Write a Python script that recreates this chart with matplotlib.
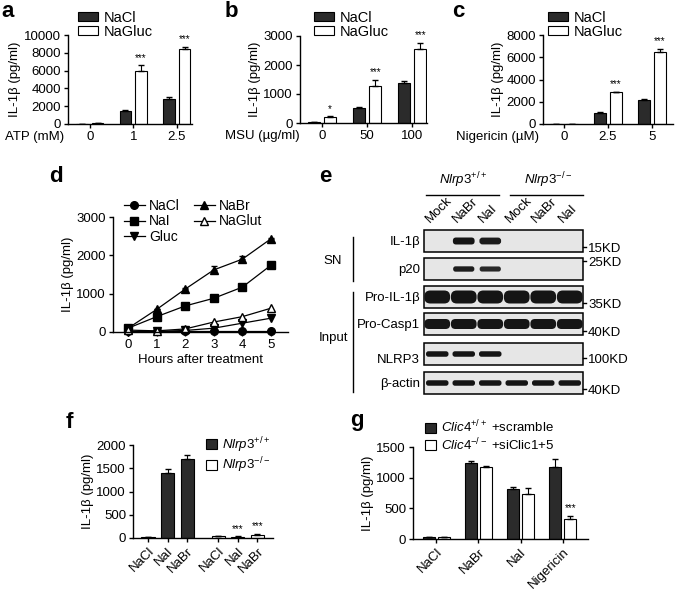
import numpy as np
import matplotlib
matplotlib.use('Agg')
import matplotlib.pyplot as plt
from matplotlib.patches import Rectangle, FancyBboxPatch, Patch

plt.rcParams['font.family'] = ['Liberation Sans', 'DejaVu Sans']
plt.rcParams['mathtext.fontset'] = 'custom'
plt.rcParams['mathtext.rm'] = 'Liberation Sans'
plt.rcParams['mathtext.it'] = 'Liberation Sans:italic'
plt.rcParams['axes.linewidth'] = 1.0
plt.rcParams['xtick.major.width'] = 1.0
plt.rcParams['ytick.major.width'] = 1.0
plt.rcParams['xtick.major.size'] = 3
plt.rcParams['ytick.major.size'] = 3
plt.rcParams['xtick.labelsize'] = 9.5
plt.rcParams['ytick.labelsize'] = 9.5
FS = 9.5

# ---- data ----
# a: ATP
a_groups = ['0', '1', '2.5']
a_nacl = [10, 1500, 2800]
a_nacl_err = [0, 100, 200]
a_gluc = [60, 6000, 8400]
a_gluc_err = [0, 600, 300]
a_stars = ['', '***', '***']

# b: MSU
b_groups = ['0', '50', '100']
b_nacl = [30, 530, 1370]
b_nacl_err = [0, 30, 90]
b_gluc = [200, 1290, 2560]
b_gluc_err = [30, 190, 200]
b_stars = ['*', '***', '***']

# c: Nigericin
c_groups = ['0', '2.5', '5']
c_nacl = [0, 1000, 2150]
c_nacl_err = [0, 50, 100]
c_gluc = [0, 2850, 6450]
c_gluc_err = [0, 60, 300]
c_stars = ['', '***', '***']

# d: time course
d_hours = [0, 1, 2, 3, 4, 5]
d_nacl = [20, 20, 20, 20, 20, 20]
d_nai = [100, 400, 680, 880, 1170, 1740]
d_gluc = [0, 15, 40, 100, 230, 360]
d_nabr = [100, 590, 1120, 1620, 1900, 2430]
d_nabr_err = [0, 20, 30, 110, 90, 20]
d_naglut = [50, 30, 80, 260, 400, 620]

# e: western blot (relative band intensity per lane)
e_lanes = ['Mock', 'NaBr', 'NaI', 'Mock', 'NaBr', 'NaI']
e_rows = ['IL-1β', 'p20', 'Pro-IL-1β', 'Pro-Casp1', 'NLRP3', 'β-actin']
e_bands = [
    [0, 1.0, 0.9, 0, 0, 0],
    [0, 0.9, 0.7, 0, 0, 0],
    [1, 1, 1, 1, 1, 1],
    [1, 1, 1, 1, 1, 1],
    [1, 1, 1, 0, 0, 0],
    [1, 1, 1, 1, 1, 1],
]
e_markers = ['15KD', '25KD', '35KD', '40KD', '100KD', '40KD']

# f: Nlrp3 WT vs KO
f_cats = ['NaCl', 'NaI', 'NaBr', 'NaCl', 'NaI', 'NaBr']
f_vals = [20, 1390, 1700, 40, 30, 70]
f_err = [5, 90, 90, 5, 5, 10]
f_stars = ['', '', '', '', '***', '***']

# g: Clic4
g_cats = ['NaCl', 'NaBr', 'NaI', 'Nigericin']
g_scr = [30, 1245, 820, 1170]
g_scr_err = [5, 20, 25, 130]
g_si = [25, 1170, 740, 330]
g_si_err = [5, 20, 90, 40]
g_stars = ['', '', '', '***']

W, H = 675, 592
fig = plt.figure(figsize=(W / 100, H / 100), dpi=100)


def box(x0, y0, x1, y1):
    return [x0 / W, 1 - y1 / H, (x1 - x0) / W, (y1 - y0) / H]


def fpos(x, y):
    return (x / W, 1 - y / H)


def style(ax):
    ax.spines['top'].set_visible(False)
    ax.spines['right'].set_visible(False)
    ax.tick_params(direction='out', pad=2)


DARK = '#2b2b2b'


def pair_bars(ax, xs, v1, e1, v2, e2, stars, w, off, ymax):
    ax.bar(xs - off, v1, w, color=DARK, edgecolor='black', lw=0.8)
    ax.bar(xs + off, v2, w, color='white', edgecolor='black', lw=0.8)
    ax.errorbar(xs - off, v1, yerr=[np.zeros(len(v1)), e1], fmt='none', ecolor='black', elinewidth=0.8, capsize=2.5)
    ax.errorbar(xs + off, v2, yerr=[np.zeros(len(v2)), e2], fmt='none', ecolor='black', elinewidth=0.8, capsize=2.5)
    for x, v, e, s in zip(xs + off, v2, e2, stars):
        if s:
            ax.text(x, v + e + ymax * 0.03, s, ha='center', va='bottom', fontsize=7)


def dose_panel(rect, groups, v1, e1, v2, e2, stars, ymax, step, xl, xlim, leg_xy, xlab):
    ax = fig.add_axes(box(*rect))
    style(ax)
    xs = np.arange(len(groups))
    pair_bars(ax, xs, v1, e1, v2, e2, stars, 0.27, 0.18, ymax)
    ax.set_ylim(0, ymax)
    ax.set_xlim(*xlim)
    ax.set_yticks(np.arange(0, ymax + 1, step))
    ax.set_xticks(xs, groups)
    ax.set_ylabel('IL-1β (pg/ml)', fontsize=FS, labelpad=2)
    ax.annotate(xlab, xy=(0, 0), xycoords='axes fraction', xytext=(xl, -5), textcoords='offset points',
                ha='right', va='top', fontsize=FS)
    hs = [Patch(facecolor=DARK, edgecolor='black', lw=0.8), Patch(facecolor='white', edgecolor='black', lw=0.8)]
    ax.legend(hs, ['NaCl', 'NaGluc'], loc='upper left', bbox_to_anchor=fpos(*leg_xy), bbox_transform=fig.transFigure,
              frameon=False, fontsize=10.5, handlelength=1.4, handleheight=0.6, handletextpad=0.35,
              borderpad=0, borderaxespad=0, labelspacing=0.0)
    return ax


dose_panel((68, 35, 192, 124), a_groups, a_nacl, a_nacl_err, a_gluc, a_gluc_err, a_stars,
           10000, 2000, -3, (-0.5, 2.35), (78, 11), 'ATP (mM)')
dose_panel((300, 36, 427, 123), b_groups, b_nacl, b_nacl_err, b_gluc, b_gluc_err, b_stars,
           3000, 1000, 0, (-0.49, 2.33), (314, 11), 'MSU (µg/ml)')
dose_panel((543, 35, 673, 124), c_groups, c_nacl, c_nacl_err, c_gluc, c_gluc_err, c_stars,
           8000, 2000, -3, (-0.48, 2.48), (548, 11), 'Nigericin (µM)')

# ---- d ----
ax = fig.add_axes(box(113, 217, 288, 332))
style(ax)
kw = dict(color='black', lw=0.9, ms=5.5, clip_on=False)
l1, = ax.plot(d_hours, d_nacl, marker='o', **kw)
l2, = ax.plot(d_hours, d_nai, marker='s', **kw)
l3, = ax.plot(d_hours, d_gluc, marker='v', **kw)
ax.errorbar(d_hours, d_nabr, yerr=[np.zeros(6), d_nabr_err], fmt='none', ecolor='black', elinewidth=0.8, capsize=2.5)
l4, = ax.plot(d_hours, d_nabr, marker='^', **kw)
l5, = ax.plot(d_hours, d_naglut, marker='^', mfc='white', **kw)
ax.set_xlim(-0.53, 5.6)
ax.set_ylim(0, 3000)
ax.set_yticks([0, 1000, 2000, 3000])
ax.set_xticks(d_hours)
ax.set_xlabel('Hours after treatment', fontsize=FS, labelpad=2)
ax.set_ylabel('IL-1β (pg/ml)', fontsize=FS, labelpad=2)
ax.legend([l1, l2, l3, l4, l5], ['NaCl', 'NaI', 'Gluc', 'NaBr', 'NaGlut'], ncol=2, loc='upper left',
          bbox_to_anchor=fpos(124, 199), bbox_transform=fig.transFigure, frameon=False, fontsize=10,
          handlelength=1.5, handletextpad=0.3, columnspacing=1.0, borderpad=0, borderaxespad=0, labelspacing=0.1)

# ---- e: blot drawn in pixel coordinates ----
ov = fig.add_axes([0, 0, 1, 1])
ov.set_xlim(0, W)
ov.set_ylim(H, 0)
ov.axis('off')
bx0, bx1 = 424, 583
box_tops = [230, 258, 286, 313, 343, 372]
box_h = 22
band_h = [7, 5.5, 13, 10, 5.5, 5.5]
band_w = [0.82, 0.8, 0.97, 0.97, 0.85, 0.85]
lane_w = (bx1 - bx0) / len(e_lanes)
marker_y = [249, 263, 305, 333, 360, 391]
for r, (name, top) in enumerate(zip(e_rows, box_tops)):
    ov.add_patch(Rectangle((bx0, top), bx1 - bx0, box_h, facecolor='#e6e6e6', edgecolor='black', lw=1.1))
    cy = top + box_h / 2
    for i, inten in enumerate(e_bands[r]):
        if inten <= 0:
            continue
        cx = bx0 + lane_w * (i + 0.5)
        bw = lane_w * band_w[r]
        hh = band_h[r] * (0.75 + 0.25 * inten)
        ov.add_patch(FancyBboxPatch((cx - bw / 2, cy - hh / 2), bw, hh,
                                    boxstyle='round,pad=0,rounding_size=%f' % (hh / 2.2),
                                    facecolor='#151515', edgecolor='none', alpha=0.7 + 0.3 * inten))
    ly = cy + (6 if name == 'NLRP3' else 1)
    ov.text(420, ly, name, ha='right', va='center', fontsize=FS)
    my = marker_y[r]
    ov.plot([bx1, bx1 + 3], [my - 2, my - 2], color='black', lw=1.0)
    ov.text(bx1 + 5, my, e_markers[r], ha='left', va='center', fontsize=FS)
for i, lab in enumerate(e_lanes):
    cx = bx0 + lane_w * (i + 0.5)
    ov.text(cx - 5, 225, lab, rotation=45, rotation_mode='anchor', ha='left', va='bottom', fontsize=FS)
ov.plot([426, 499], [195, 195], color='black', lw=1.0)
ov.plot([510, 583], [195, 195], color='black', lw=1.0)
ov.text(463, 190, r'$\it{Nlrp3}^{+/+}$', ha='center', va='bottom', fontsize=FS)
ov.text(548, 190, r'$\it{Nlrp3}^{-/-}$', ha='center', va='bottom', fontsize=FS)
ov.plot([353, 353], [237, 281], color='black', lw=1.0)
ov.plot([353, 353], [292, 392], color='black', lw=1.0)
ov.text(333, 261, 'SN', ha='center', va='center', fontsize=FS)
ov.text(333, 338, 'Input', ha='center', va='center', fontsize=FS)

# ---- f ----
ax = fig.add_axes(box(133, 445, 273, 538))
style(ax)
fx = np.array([0, 1, 2, 3.6, 4.6, 5.6])
fc = [DARK] * 3 + ['white'] * 3
ax.bar(fx, f_vals, 0.67, color=fc, edgecolor='black', lw=0.8)
ax.errorbar(fx, f_vals, yerr=[np.zeros(6), f_err], fmt='none', ecolor='black', elinewidth=0.8, capsize=2.5)
for x, v, e, s in zip(fx, f_vals, f_err, f_stars):
    if s:
        ax.text(x, v + e + 60, s, ha='center', va='bottom', fontsize=7)
ax.set_xlim(-0.77, 6.4)
ax.set_ylim(0, 2000)
ax.set_yticks([0, 500, 1000, 1500, 2000])
ax.set_xticks(fx, f_cats, rotation=45, ha='right', rotation_mode='anchor')
ax.set_ylabel('IL-1β (pg/ml)', fontsize=FS, labelpad=2)
hs = [Patch(facecolor=DARK, edgecolor='black', lw=0.8), Patch(facecolor='white', edgecolor='black', lw=0.8)]
ax.legend(hs, [r'$\it{Nlrp3}^{+/+}$', r'$\it{Nlrp3}^{-/-}$'], loc='upper left', bbox_to_anchor=fpos(206, 435),
          bbox_transform=fig.transFigure, frameon=False, fontsize=FS, handlelength=0.8, handleheight=0.8,
          handletextpad=0.4, borderpad=0, borderaxespad=0, labelspacing=0.05)

# ---- g ----
ax = fig.add_axes(box(413, 447, 588, 539))
style(ax)
gx = np.arange(len(g_cats))
pair_bars(ax, gx, g_scr, g_scr_err, g_si, g_si_err, g_stars, 0.28, 0.18, 1500)
ax.set_xlim(-0.55, 3.6)
ax.set_ylim(0, 1500)
ax.set_yticks([0, 500, 1000, 1500])
ax.set_xticks(gx, g_cats, rotation=45, ha='right', rotation_mode='anchor')
ax.set_ylabel('IL-1β (pg/ml)', fontsize=FS, labelpad=2)
ax.legend(hs, [r'$\it{Clic4}^{+/+}$ +scramble', r'$\it{Clic4}^{-/-}$ +siClic1+5'], loc='upper left',
          bbox_to_anchor=fpos(425, 419), bbox_transform=fig.transFigure, frameon=False, fontsize=FS,
          handlelength=0.8, handleheight=0.8, handletextpad=0.4, borderpad=0, borderaxespad=0, labelspacing=0.05)

# panel letters
for lab, x, y in [('a', 1, 17), ('b', 225, 17), ('c', 452, 17), ('d', 49, 182), ('e', 319, 182),
                  ('f', 66, 428), ('g', 350, 426)]:
    fig.text(x / W, 1 - y / H, lab, fontsize=16, fontweight='bold', va='baseline', ha='left')

fig.savefig('out.png', dpi=100)
